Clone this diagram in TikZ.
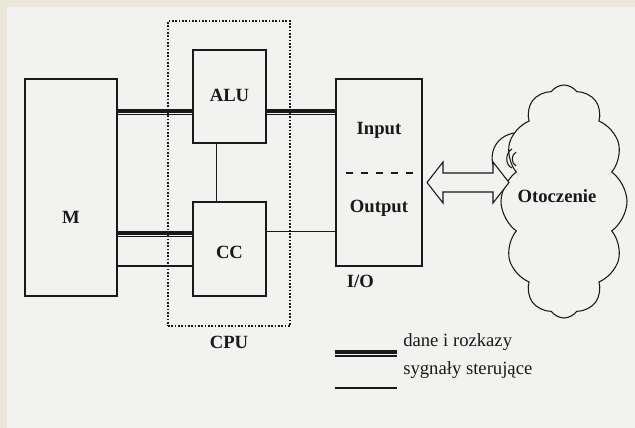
\documentclass[tikz,border=0pt]{standalone}
\usepackage{fontspec}
\setmainfont{Liberation Serif}
\usepackage{xcolor}
\usepackage{tikz}
\usetikzlibrary{positioning,shapes.symbols}
\definecolor{papier}{RGB}{242,242,240}
\definecolor{ramka}{RGB}{234,231,218}
\definecolor{tusz}{RGB}{25,25,25}

\tikzset{
  blok/.style={draw=tusz, line width=1.3pt, inner sep=0pt, outer sep=0pt},
  dane/.style={draw=tusz, line width=3pt,
    postaction={draw=tusz, line width=0.8pt, transform canvas={yshift=-3pt}}},
  sterowanie/.style={draw=tusz, line width=0.8pt},
  opis/.style={font=\fontsize{14}{16}\selectfont\bfseries, text=tusz, inner sep=0pt},
  legenda/.style={font=\fontsize{14}{16}\selectfont, text=tusz, inner sep=0pt}
}

\begin{document}
\begin{tikzpicture}[x=0.75pt,y=-0.75pt]
\fill[papier] (0,0) rectangle (635,428);
\fill[ramka] (0,0) rectangle (635,7);
\fill[ramka] (0,0) rectangle (7,428);
\useasboundingbox (0,0) rectangle (635,428);

% bloki
\node[blok, minimum width=69pt, minimum height=162.75pt] (M) at (71,187.5) {};
\node[blok, minimum width=54.75pt, minimum height=69.75pt] (ALU) at (229.5,96.5) {};
\node[blok, minimum width=54.75pt, minimum height=70.5pt] (CC) at (229.5,249) {};
\node[blok, minimum width=64.5pt, minimum height=140.25pt] (IO) at (379,172.5) {};
\node[draw=tusz, line width=1.3pt, dash pattern=on 1.2pt off 1.3pt, inner sep=0pt,
      minimum width=91.5pt, minimum height=228.75pt] (CPU) at (229,173.5) {};

\node[opis] (Mlbl) at (71,217) {M};
\node[opis] (ALUlbl) at (229.5,95) {ALU};
\node[opis] (CClbl) at (229.5,252) {CC};
\node[opis, below=7pt of CPU] (CPUlbl) {CPU};
\node[opis] (inlbl) at (379,130) {Input};
\node[opis] (outlbl) at (379,208) {Output};
\node[opis, below right=7pt and 8pt of IO.south west] (IOlbl) {I/O};
\draw[tusz, line width=1.1pt, dash pattern=on 5.6pt off 5.6pt] (346,173) -- (413,173);

% polaczenia
\coordinate (r1) at (0,110.5); \coordinate (r2) at (0,232.5);
\coordinate (r3) at (0,266); \coordinate (r4) at (0,231.5);
\coordinate (k1) at (216.5,0);
\draw[dane] (M.east |- r1) -- (ALU.west |- r1);
\draw[dane] (ALU.east |- r1) -- (IO.west |- r1);
\draw[dane] (M.east |- r2) -- (CC.west |- r2);
\draw[sterowanie] (M.east |- r3) -- (CC.west |- r3);
\draw[sterowanie] (CC.east |- r4) -- (IO.west |- r4);
\draw[sterowanie] (ALU.south -| k1) -- (CC.north -| k1);

% otoczenie
\node[cloud, cloud puffs=12, cloud puff arc=110, aspect=0.54, draw=tusz, line width=0.8pt,
      inner sep=0pt, minimum width=94.5pt, minimum height=174.75pt] (chmura) at (564,201.5) {};
\draw[sterowanie] (503,177) .. controls (487,170) and (487,138) .. (514,133);
\draw[sterowanie] (512,149) .. controls (505,153) and (505,165) .. (512,168);
\draw[sterowanie] (516,152) .. controls (511,155) and (511,163) .. (516,166);
\node[opis] (otocz) at (557,196) {Otoczenie};

\coordinate (lewy) at (427,182.5);
\draw[tusz, line width=0.8pt, fill=papier] (lewy) -- ++(16,-20.5) -- ++(0,11) -- ++(50,0)
  -- ++(0,-11) -- ++(16,20.5) -- ++(-16,20.5) -- ++(0,-11) -- ++(-50,0) -- ++(0,11) -- cycle;

% legenda
\coordinate (l1a) at (335,352); \coordinate (l1b) at (397,352);
\coordinate (l2a) at (335,388); \coordinate (l2b) at (397,388);
\draw[dane] (l1a) -- (l1b);
\draw[sterowanie] (l2a) -- (l2b);
\node[legenda, anchor=base west] (lgd1) at (403,346) {dane i rozkazy};
\node[legenda, anchor=base west] (lgd2) at (403,374) {sygnały sterujące};
\end{tikzpicture}
\end{document}
